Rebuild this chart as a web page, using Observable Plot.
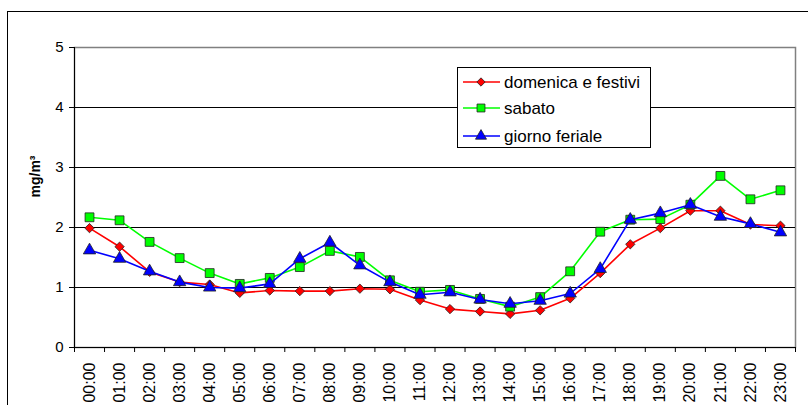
<!DOCTYPE html>
<html>
<head>
<meta charset="utf-8">
<script src="https://cdn.jsdelivr.net/npm/d3@7"></script>
<script src="https://cdn.jsdelivr.net/npm/@observablehq/plot@0.6"></script>
<style>
  html, body { margin: 0; padding: 0; background: #fff; overflow: hidden; }
  #wrap { position: relative; width: 808px; height: 405px; font-family: "Liberation Sans", Arial, sans-serif; }
  #frame { position: absolute; left: 7px; top: 11px; width: 820px; height: 420px; border: 1px solid #000; box-sizing: border-box; }
  #chart { position: absolute; left: 0; top: 0; }
  #legend { position: absolute; left: 457px; top: 67px; }
</style>
</head>
<body>
<div id="wrap"><div id="frame"></div><div id="chart"></div><div id="legend"></div></div>
<script>
const hours = ["00:00","01:00","02:00","03:00","04:00","05:00","06:00","07:00","08:00","09:00","10:00","11:00",
               "12:00","13:00","14:00","15:00","16:00","17:00","18:00","19:00","20:00","21:00","22:00","23:00"];
const domenica = [1.99,1.68,1.26,1.09,1.05,0.91,0.95,0.94,0.94,0.98,0.97,0.79,0.64,0.60,0.56,0.62,0.82,1.24,1.72,1.99,2.28,2.28,2.05,2.03];
const sabato   = [2.17,2.12,1.76,1.49,1.24,1.06,1.16,1.34,1.61,1.51,1.12,0.93,0.96,0.81,0.68,0.84,1.27,1.93,2.13,2.14,2.38,2.86,2.47,2.62];
const feriale  = [1.62,1.48,1.27,1.09,1.00,0.99,1.06,1.48,1.75,1.37,1.09,0.88,0.92,0.80,0.73,0.78,0.90,1.31,2.13,2.24,2.38,2.18,2.06,1.92];
const seriesNames = ["domenica e festivi","sabato","giorno feriale"];
const seriesColors = ["#ff0000","#00ff00","#0000ff"];
const seriesSymbols = ["diamond2","square","triangle"];
const seriesR = [4.2, 5.0, 4.6];
const yTicks = [0,1,2,3,4,5];

const allValues = [domenica, sabato, feriale];
const seriesMarks = [];
allValues.forEach((vals, s) => {
  const rows = vals.map((v, i) => ({x: i + 0.5, v}));
  seriesMarks.push(Plot.line(rows, {x: "x", y: "v", stroke: seriesColors[s], strokeWidth: 1.6}));
  seriesMarks.push(Plot.dot(rows, {x: "x", y: "v", symbol: seriesSymbols[s], r: seriesR[s], fill: seriesColors[s], stroke: "#222", strokeWidth: 0.8}));
});

const plot = Plot.plot({
  width: 808, height: 405,
  marginLeft: 74, marginRight: 13, marginTop: 47, marginBottom: 58,
  style: {fontFamily: "Liberation Sans, Arial, sans-serif", background: "transparent"},
  x: {domain: [0, 24]},
  y: {domain: [0, 5]},
  marks: [
    Plot.frame({stroke: "#808080", strokeWidth: 1.5}),
    Plot.ruleY([1,2,3,4], {stroke: "#000", strokeWidth: 1}),
    Plot.axisY({ticks: yTicks, tickSize: 5, tickPadding: 6, fontSize: 15, label: null, tickFormat: d => d}),
    Plot.axisX({ticks: d3.range(25), tickSize: 5, tickFormat: () => "", label: null}),
    Plot.axisX({ticks: hours.map((h, i) => i + 0.5), tickSize: 0, tickPadding: 15, tickRotate: -90,
                tickFormat: d => hours[Math.floor(d)], fontSize: 16, label: null}),
    Plot.ruleX([0], {stroke: "#000"}),
    Plot.ruleY([0], {stroke: "#000"}),
    Plot.text(["mg/m³"], {frameAnchor: "left", rotate: -90, dx: -39, fontWeight: "bold", fontSize: 14}),
    ...seriesMarks
  ]
});
document.getElementById("chart").appendChild(plot);

// legend
const lw = 194, lh = 81;
const lg = d3.select("#legend").append("svg").attr("width", lw).attr("height", lh);
lg.append("rect").attr("x", 0.5).attr("y", 0.5).attr("width", lw - 1).attr("height", lh - 1)
  .attr("fill", "#fff").attr("stroke", "#000");
const rowY = [15, 41, 69];
seriesNames.forEach((name, s) => {
  const g = lg.append("g").attr("transform", `translate(0,${rowY[s]})`);
  g.append("line").attr("x1", 6).attr("x2", 43).attr("stroke", seriesColors[s]).attr("stroke-width", 1.6);
  const sym = {diamond2: d3.symbolDiamond2, square: d3.symbolSquare, triangle: d3.symbolTriangle}[seriesSymbols[s]];
  g.append("path").attr("transform", "translate(24,0)")
    .attr("d", d3.symbol(sym, Math.PI * seriesR[s] * seriesR[s] * 0.8)())
    .attr("fill", seriesColors[s]).attr("stroke", "#222").attr("stroke-width", 0.8);
  g.append("text").attr("x", 47).attr("dy", "0.35em").attr("font-size", 17)
    .attr("font-family", "Liberation Sans, Arial, sans-serif").text(name);
});
</script>
</body>
</html>
